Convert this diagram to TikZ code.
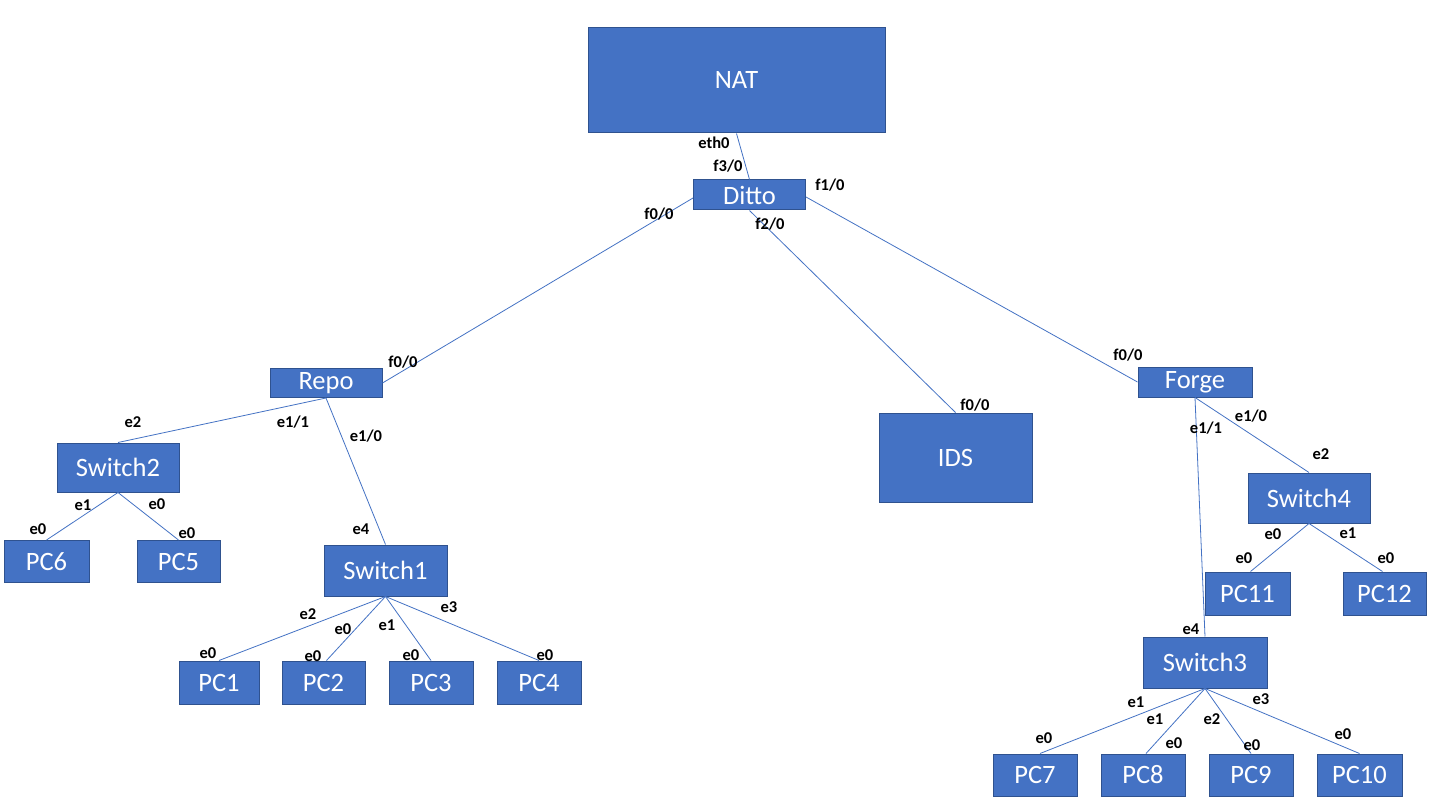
\documentclass[tikz,border=0pt]{standalone}
\usepackage{fontspec}
\setmainfont{Carlito}
\definecolor{boxfill}{HTML}{4472C4}
\definecolor{boxline}{HTML}{2F528F}
\definecolor{wire}{HTML}{4472C4}
\begin{document}
\begin{tikzpicture}[x=1pt,y=-1pt,
  dev/.style={draw=boxline, line width=1pt, fill=boxfill, text=white, inner sep=0pt, font=\fontsize{26.5}{30}\selectfont},
  lbl/.style={inner sep=0pt, font=\bfseries\fontsize{16.5}{18}\selectfont, text=black},
  link/.style={draw=wire, line width=0.8pt}]
\useasboundingbox[fill=white] (0,0) rectangle (1444,805);
% devices
\node[dev, minimum width=297pt, minimum height=105pt] (nat) at (736.5,80.5) {NAT};
\node[dev, minimum width=112pt, minimum height=30pt] (ditto) at (749.5,195) {Ditto};
\node[dev, minimum width=112pt, minimum height=29pt] (repo) at (326,383) {Repo};
\node[dev, minimum width=153pt, minimum height=89pt] (ids) at (955.5,457.5) {IDS};
\node[dev, minimum width=114pt, minimum height=30pt] (forge) at (1195,382) {Forge};
\node[dev, minimum width=122pt, minimum height=49pt] (sw2) at (118,467.5) {Switch2};
\node[dev, minimum width=123pt, minimum height=51pt] (sw1) at (385.5,570.5) {Switch1};
\node[dev, minimum width=122pt, minimum height=50pt] (sw4) at (1309,498) {Switch4};
\node[dev, minimum width=124pt, minimum height=51pt] (sw3) at (1205,662.5) {Switch3};
\node[dev, minimum width=85pt, minimum height=42pt] (pc6) at (46.5,561.5) {PC6};
\node[dev, minimum width=83pt, minimum height=42pt] (pc5) at (178.5,561.5) {PC5};
\node[dev, minimum width=80pt, minimum height=43pt] (pc1) at (219,682.5) {PC1};
\node[dev, minimum width=83pt, minimum height=43pt] (pc2) at (323.5,682.5) {PC2};
\node[dev, minimum width=84pt, minimum height=43pt] (pc3) at (431,682.5) {PC3};
\node[dev, minimum width=84pt, minimum height=43pt] (pc4) at (539,682.5) {PC4};
\node[dev, minimum width=85pt, minimum height=43pt] (pc11) at (1247.5,593.5) {PC11};
\node[dev, minimum width=83pt, minimum height=43pt] (pc12) at (1384.5,593.5) {PC12};
\node[dev, minimum width=84pt, minimum height=42pt] (pc7) at (1035,775) {PC7};
\node[dev, minimum width=84pt, minimum height=42pt] (pc8) at (1143,775) {PC8};
\node[dev, minimum width=84pt, minimum height=42pt] (pc9) at (1251,775) {PC9};
\node[dev, minimum width=85pt, minimum height=42pt] (pc10) at (1359.5,775) {PC10};
% links
\draw[link] (nat.south) -- (ditto.north);
\draw[link] ([yshift=-3pt]ditto.west) -- (repo.east);
\draw[link] (ditto.south) -- (ids.north);
\draw[link] ([yshift=-2pt]ditto.east) -- (forge.west);
\draw[link] (repo.south) -- (sw2.north);
\draw[link] (repo.south) -- (sw1.north);
\draw[link] (sw2.south) -- (pc6.north);
\draw[link] (sw2.south) -- (pc5.north);
\draw[link] (sw1.south) -- (pc1.north);
\draw[link] (sw1.south) -- ([xshift=3pt]pc2.north);
\draw[link] (sw1.south) -- (pc3.north);
\draw[link] (sw1.south) -- (pc4.north);
\draw[link] (forge.south) -- (sw4.north);
\draw[link] (forge.south) -- (sw3.north);
\draw[link] (sw4.south) -- ([xshift=3pt]pc11.north);
\draw[link] (sw4.south) -- ([xshift=-2pt]pc12.north);
\draw[link] (sw3.south) -- ([xshift=5pt]pc7.north);
\draw[link] (sw3.south) -- ([xshift=3pt]pc8.north);
\draw[link] (sw3.south) -- (pc9.north);
\draw[link] (sw3.south) -- (pc10.north);
% interface labels
\node[lbl] (l1) at (714,143) {eth0};
\node[lbl] (l2) at (728,166) {f3/0};
\node[lbl] (l3) at (830,185) {f1/0};
\node[lbl] (l4) at (659,214) {f0/0};
\node[lbl] (l5) at (770,224) {f2/0};
\node[lbl] (l6) at (403,362) {f0/0};
\node[lbl] (l7) at (133,422) {e2};
\node[lbl] (l8) at (293,422) {e1/1};
\node[lbl] (l9) at (366,436) {e1/0};
\node[lbl] (l10) at (361,529) {e4};
\node[lbl] (l11) at (83,505) {e1};
\node[lbl] (l12) at (157,504) {e0};
\node[lbl] (l13) at (38,529) {e0};
\node[lbl] (l14) at (187,533) {e0};
\node[lbl] (l15) at (308,614) {e2};
\node[lbl] (l16) at (343,629) {e0};
\node[lbl] (l17) at (387,625) {e1};
\node[lbl] (l18) at (449,607) {e3};
\node[lbl] (l19) at (208,653) {e0};
\node[lbl] (l20) at (313,656) {e0};
\node[lbl] (l21) at (411,655) {e0};
\node[lbl] (l22) at (545,655) {e0};
\node[lbl] (l23) at (975,405) {f0/0};
\node[lbl] (l24) at (1128,355) {f0/0};
\node[lbl] (l25) at (1251,416) {e1/0};
\node[lbl] (l26) at (1206,428) {e1/1};
\node[lbl] (l27) at (1321,454) {e2};
\node[lbl] (l28) at (1273,534) {e0};
\node[lbl] (l29) at (1348,533) {e1};
\node[lbl] (l30) at (1244,558) {e0};
\node[lbl] (l31) at (1386,558) {e0};
\node[lbl] (l32) at (1191,629) {e4};
\node[lbl] (l33) at (1136,702) {e1};
\node[lbl] (l34) at (1155,719) {e1};
\node[lbl] (l35) at (1212,719) {e2};
\node[lbl] (l36) at (1261,699) {e3};
\node[lbl] (l37) at (1044,738) {e0};
\node[lbl] (l38) at (1174,743) {e0};
\node[lbl] (l39) at (1252,745) {e0};
\node[lbl] (l40) at (1343,734) {e0};
\end{tikzpicture}
\end{document}
